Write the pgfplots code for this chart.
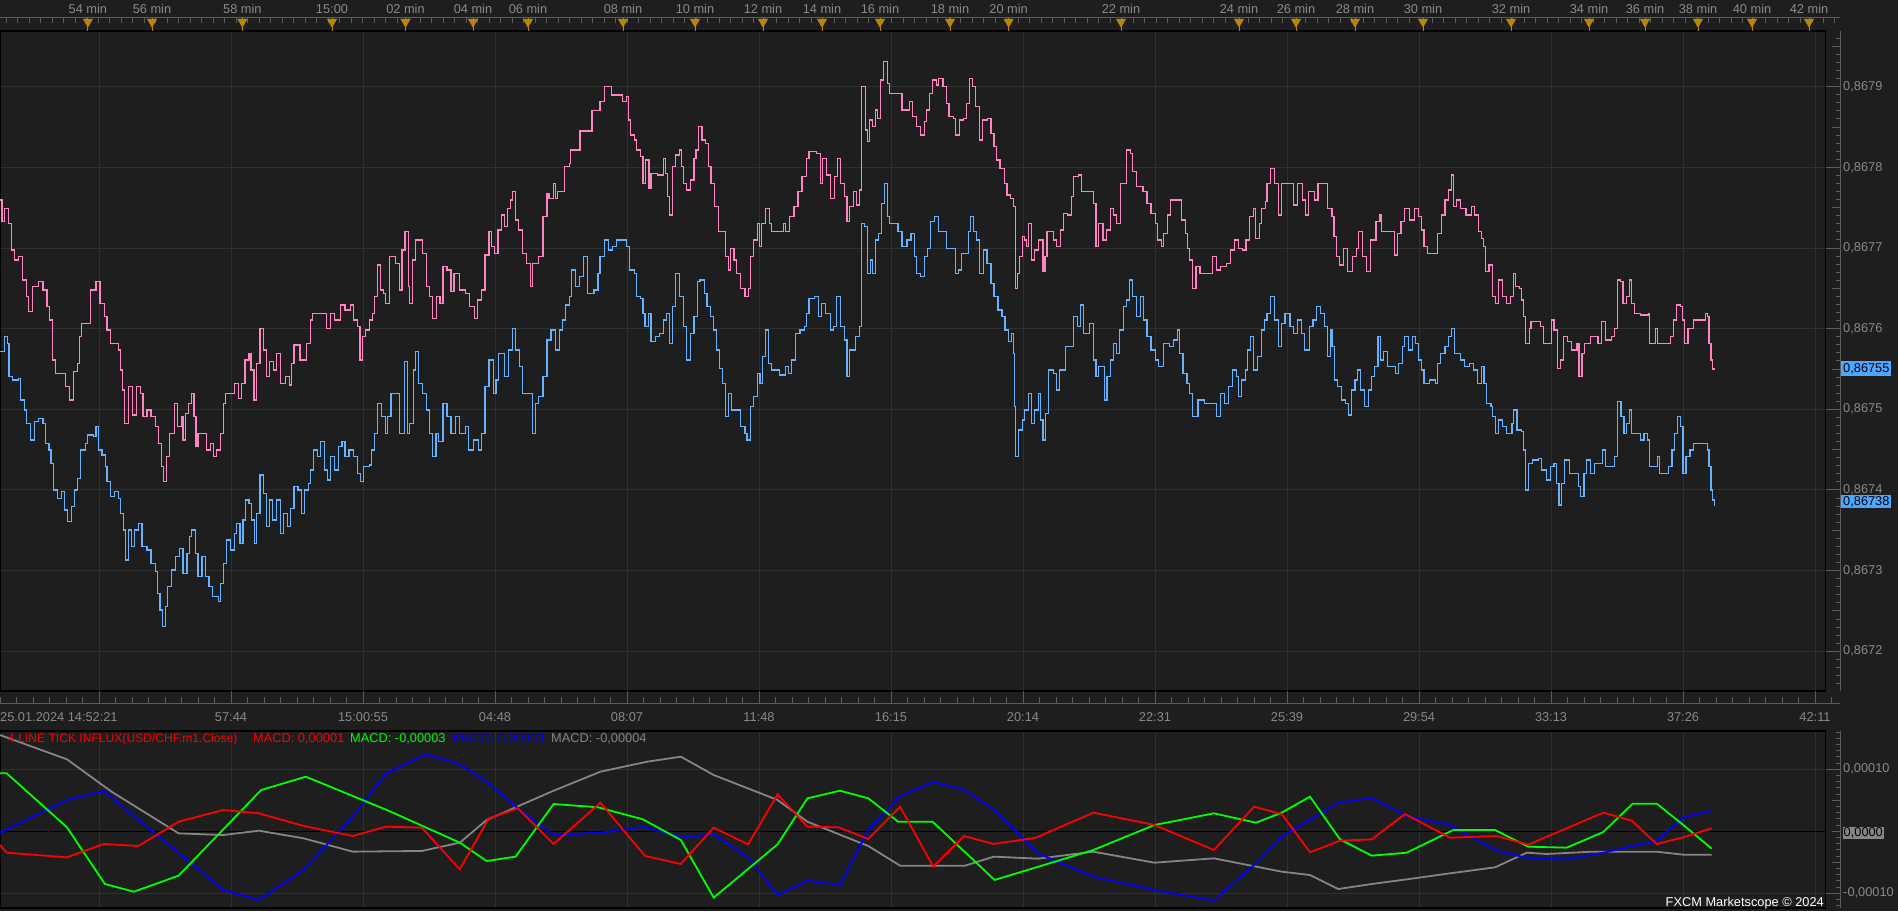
\documentclass[border=0pt]{standalone}
\usepackage{pgfplots}
\pgfplotsset{compat=1.18}
\usepackage{fontspec}
\setmainfont{Liberation Sans}
\definecolor{bg}{HTML}{1E1E1E}
\definecolor{gridc}{HTML}{303030}
\definecolor{rulec}{HTML}{5C5C5C}
\definecolor{txt}{HTML}{8A8A8A}
\definecolor{pinkc}{HTML}{FF85C2}
\definecolor{bluec}{HTML}{66B2FF}
\definecolor{boxblue}{HTML}{4DA6FF}
\definecolor{goldc}{HTML}{B8860B}
\definecolor{mgray}{HTML}{858585}
\definecolor{mred}{HTML}{FF0000}
\definecolor{mgreen}{HTML}{00FF00}
\definecolor{mblue}{HTML}{0000FF}
\newcommand{\lab}{\fontsize{12.8}{15}\selectfont}
\newcommand{\tlab}{\fontsize{12.1}{14}\selectfont}
\pgfplotsset{
  panel/.style={scale only axis, anchor=south west, xmin=0, xmax=1825.7, width=1825.7pt,
    grid=major, grid style={gridc, line width=1pt}, xtick={99,231,...,1815},
    xmajorticks=false, ymajorticks=false,
    axis line style={black, line width=1.5pt}},
  ruler/.style={scale only axis, anchor=south west, width=1840pt, xmin=0, xmax=1,
    axis x line=none, axis y line*=right, axis line style={rulec, line width=1pt},
    tick align=inside, major tick length=14.3pt, minor tick length=4pt,
    tick style={rulec, line width=1pt},
    extra y tick labels={}, extra y tick style={major tick length=8pt},
    yticklabel style={anchor=west, inner sep=0pt, xshift=3pt, text=txt, font=\lab}},
}
\begin{document}
\begin{tikzpicture}[x=1pt,y=1pt]
\fill[bg] (0,0) rectangle (1898,911);

% ---------------- main price panel
\begin{axis}[panel, at={(0pt,220pt)}, height=660pt, ymin=15.08, ymax=96.905, ytick={20,30,...,90}]
\addplot[const plot, pinkc, line width=1.2pt] table {
0 75.95
2.0 73.27
4.1 74.92
8.2 73.06
11.4 69.75
14.3 68.51
18.4 68.93
22.4 66.04
26.5 63.97
28.6 62.11
32.7 65.21
38.8 65.83
42.9 64.80
46.9 62.73
49.8 61.08
52.2 56.12
55.1 54.46
61.2 54.46
65.3 52.81
69.4 51.16
73.5 54.67
77.6 55.70
79.6 59.01
81.6 60.66
87.8 60.66
90.6 64.80
95.9 65.83
100.0 63.14
104.1 61.49
106.9 59.84
110.2 58.18
118.4 57.36
120.4 54.88
122.4 52.40
124.5 48.26
128.6 52.81
132.7 49.30
136.7 52.81
140.8 51.98
142.9 49.09
146.9 49.92
151.0 49.09
155.1 47.85
158.4 45.79
161.2 42.89
163.3 41.03
166.5 44.13
169.4 47.03
174.7 50.74
177.6 47.85
181.6 49.09
182.9 46.20
185.7 49.50
188.6 50.74
191.8 51.98
193.9 49.09
195.9 45.37
198.0 47.03
204.1 47.03
206.1 44.96
210.2 45.79
213.5 44.13
216.3 44.96
220.4 47.03
223.7 50.74
225.3 51.98
230.6 51.98
234.7 53.22
238.8 51.36
241.6 53.22
244.9 56.12
249.0 56.94
251.0 54.88
253.9 51.16
256.3 55.70
260.0 60.04
263.3 57.36
266.1 54.05
269.4 55.91
273.5 54.88
276.7 56.94
280.8 53.22
285.7 54.05
289.8 53.02
291.8 55.70
293.9 57.98
300.0 56.12
304.1 56.12
306.1 58.18
310.2 61.08
312.2 61.90
322.4 61.90
326.5 60.04
330.6 61.90
334.7 61.08
340.8 62.94
344.9 62.32
350.2 62.94
353.1 61.08
357.1 60.25
360.0 56.12
362.4 59.01
365.3 59.84
369.4 61.08
372.2 61.90
374.7 63.97
377.6 67.90
380.8 64.80
383.7 64.38
385.7 63.14
389.8 68.93
395.1 68.10
399.2 64.80
402.0 69.75
404.9 72.03
408.2 65.21
409.4 63.14
412.2 68.51
415.5 70.99
418.4 70.99
422.4 69.34
426.5 65.21
429.4 63.97
432.7 61.28
436.7 63.97
440.0 63.14
442.9 67.69
446.9 67.27
451.0 64.59
453.9 66.86
459.2 64.80
465.3 64.38
469.4 62.73
474.3 61.28
477.6 63.56
481.6 64.80
484.9 69.13
489.0 72.03
491.8 70.17
494.7 69.34
498.0 72.23
501.2 74.09
504.1 72.65
507.3 74.92
510.2 75.95
512.2 76.99
515.1 73.47
518.4 72.23
522.4 69.34
526.5 68.10
530.6 65.21
532.7 68.10
538.8 68.93
542.9 73.89
546.9 76.78
549.0 76.16
553.1 78.02
555.1 76.16
557.1 76.99
563.3 76.99
564.1 80.09
569.4 80.50
570.6 82.15
580.0 84.50
592.0 87.00
600.0 88.14
604.1 90.00
610.2 90.00
611.4 88.97
618.4 88.97
622.4 88.14
626.5 88.76
628.6 85.87
630.6 84.01
634.7 83.39
636.7 82.15
640.8 81.33
642.9 78.02
645.7 80.91
649.0 77.40
651.0 79.26
657.1 79.05
663.3 81.12
665.3 79.26
667.3 76.37
669.4 74.09
672.7 80.09
675.5 81.53
679.6 82.15
681.6 80.09
683.7 78.02
686.5 77.19
690.6 78.43
693.9 81.12
695.9 82.15
698.8 85.05
702.0 83.39
705.3 82.98
708.2 80.09
711.0 78.02
714.3 75.13
718.4 72.03
724.5 72.03
725.7 68.93
728.6 67.28
730.6 69.96
733.9 68.51
736.7 66.86
740.8 65.00
744.9 63.97
748.2 65.00
750.2 68.93
753.1 70.99
757.1 73.06
759.2 70.17
761.2 73.06
765.3 74.92
769.4 73.06
771.4 72.03
779.6 72.03
783.7 73.06
785.7 72.03
789.8 73.89
793.9 75.13
798.0 76.99
802.0 78.85
806.1 81.12
809.0 81.95
816.3 81.74
820.4 78.02
822.4 81.12
826.5 79.05
830.6 76.16
834.7 78.85
837.6 81.12
840.8 78.02
844.1 76.37
846.9 73.27
849.8 75.13
853.1 76.99
856.3 75.33
859.2 77.19
861.2 90.00
863.3 90.00
865.3 84.63
867.3 83.19
869.4 85.87
872.7 85.05
875.5 87.11
877.6 86.08
880.8 90.83
883.7 93.10
887.8 90.42
889.8 89.18
900.0 89.18
902.0 87.11
906.9 87.11
909.4 88.14
912.2 86.29
916.3 85.05
920.4 84.01
924.5 85.67
926.5 87.11
929.8 89.18
932.7 90.83
936.7 90.21
938.8 91.04
942.9 90.00
946.1 87.94
949.0 86.29
953.1 86.08
955.1 84.01
959.2 85.87
963.3 86.08
966.1 87.94
969.4 91.04
972.2 90.00
975.5 87.53
979.6 83.39
982.4 85.87
987.8 86.08
991.0 84.22
993.9 82.57
996.7 80.91
1000.0 79.88
1004.1 78.02
1006.9 76.57
1010.2 76.16
1013.1 75.13
1015.1 65.00
1017.1 66.86
1019.2 68.93
1022.4 71.41
1024.5 70.99
1026.5 70.17
1028.6 73.06
1031.8 68.51
1034.7 69.76
1038.8 70.99
1042.9 67.07
1044.9 68.93
1046.9 72.03
1053.1 70.99
1056.3 70.17
1060.4 72.23
1063.3 74.30
1067.3 74.09
1071.4 76.37
1073.5 78.85
1078.4 79.05
1081.6 76.99
1089.8 76.99
1093.1 75.54
1095.9 70.17
1098.8 73.06
1102.9 70.99
1106.1 72.23
1110.2 74.92
1113.5 74.09
1116.3 73.06
1120.4 78.02
1126.5 82.15
1130.6 81.74
1132.7 79.47
1136.7 77.61
1142.9 76.99
1146.9 75.54
1151.0 74.30
1155.1 73.06
1157.1 70.99
1161.2 70.17
1163.3 71.82
1167.3 74.09
1170.6 75.95
1179.6 75.95
1181.6 73.47
1185.7 71.82
1187.8 69.96
1189.8 68.51
1192.7 65.00
1195.9 67.69
1200.0 66.86
1208.2 66.86
1212.2 68.93
1216.3 67.28
1220.4 67.69
1226.5 68.10
1230.6 69.76
1234.7 70.99
1238.3 69.96
1242.1 69.75
1245.9 70.99
1249.8 73.89
1253.6 74.92
1255.5 71.20
1259.3 73.06
1261.2 74.92
1265.1 75.75
1267.0 78.02
1270.8 79.88
1274.6 78.02
1278.5 74.09
1281.1 78.02
1291.8 78.02
1293.8 75.33
1297.6 78.02
1302.6 75.95
1305.2 74.09
1308.3 76.99
1314.8 75.95
1317.9 78.02
1324.4 78.02
1327.4 74.92
1332.0 73.89
1333.9 71.41
1336.6 68.93
1339.7 67.90
1343.5 69.96
1347.3 67.07
1352.3 68.93
1356.1 69.96
1358.8 72.03
1362.6 68.93
1366.5 67.07
1370.3 70.99
1376.0 73.27
1379.9 74.09
1381.8 72.03
1391.4 72.03
1394.4 69.13
1397.1 71.82
1400.9 73.27
1404.7 74.92
1409.7 73.47
1414.3 74.92
1418.1 73.89
1421.2 72.23
1423.9 70.17
1427.7 69.34
1435.4 69.34
1437.3 71.82
1441.1 74.09
1444.9 75.95
1448.8 77.19
1451.4 79.05
1453.7 75.13
1456.4 75.95
1460.2 74.92
1466.0 74.09
1471.7 75.13
1474.8 74.09
1478.6 72.03
1481.3 71.20
1483.2 70.17
1485.1 67.07
1488.9 67.90
1492.8 63.97
1495.4 63.14
1498.5 66.04
1502.3 63.97
1506.2 63.14
1510.8 63.97
1513.8 66.86
1515.7 65.21
1519.5 65.00
1521.5 63.56
1523.4 61.49
1525.3 58.18
1529.1 60.04
1531.0 60.87
1538.7 60.87
1540.6 60.25
1543.7 58.18
1549.0 58.18
1551.3 61.08
1554.0 59.84
1557.8 55.08
1560.5 56.12
1563.6 59.01
1567.4 58.39
1571.2 57.36
1577.0 58.18
1578.9 54.05
1581.9 56.94
1584.6 58.18
1590.4 59.01
1598.0 58.18
1601.8 60.87
1605.7 58.60
1611.4 59.01
1614.1 60.04
1617.1 66.04
1620.2 65.83
1622.9 63.14
1626.7 63.97
1629.4 66.04
1631.7 63.14
1634.4 61.90
1640.1 61.70
1648.5 61.90
1649.7 58.18
1655.4 60.04
1657.3 58.18
1668.8 58.18
1670.7 59.01
1673.8 61.08
1676.5 62.94
1680.3 62.73
1682.2 61.08
1684.1 58.18
1687.9 60.04
1693.7 61.08
1703.3 61.08
1705.2 61.90
1707.1 61.49
1709.0 58.18
1710.9 56.12
1712.8 55.00
1714.7 55.00
};
\addplot[const plot, bluec, line width=1.2pt] table {
0 57.15
4.1 59.01
7.3 58.18
9.0 54.05
12.2 53.64
18.4 53.84
20.4 51.16
24.5 49.92
26.5 48.26
30.6 46.20
34.7 48.47
38.8 48.88
42.9 48.26
45.7 45.79
49.0 44.96
51.0 43.31
53.1 40.00
57.1 38.97
61.2 39.79
64.5 37.52
67.3 36.07
71.4 37.93
74.3 40.00
77.6 41.45
80.4 44.96
85.7 45.79
87.8 46.82
93.1 46.61
95.9 47.85
98.8 44.96
102.0 44.34
105.3 42.89
106.9 41.03
110.2 39.17
114.3 39.79
118.4 38.97
120.4 37.11
123.3 35.04
125.3 31.32
128.6 35.04
131.4 32.97
134.7 35.04
138.8 35.87
142.0 32.97
146.9 32.56
151.0 30.91
155.1 29.88
157.1 27.19
160.0 25.12
162.4 23.06
165.3 25.54
167.3 28.02
171.4 30.08
175.5 31.73
179.6 32.77
182.9 29.67
186.9 32.15
189.8 34.21
191.8 35.04
195.1 32.15
198.0 29.26
202.0 31.73
205.3 29.26
209.0 28.02
212.2 26.78
218.4 26.16
220.4 28.43
223.7 30.91
226.5 33.80
230.6 32.56
234.7 34.63
236.7 35.87
240.0 33.39
242.9 36.28
245.7 38.76
249.0 38.35
251.8 36.28
254.3 33.39
256.3 37.11
260.0 41.86
263.3 39.59
266.1 35.45
269.4 38.76
272.7 36.28
276.7 38.76
280.8 34.63
283.7 37.11
287.8 35.45
290.6 37.73
293.9 40.41
298.0 40.00
301.2 37.11
304.1 40.00
308.2 40.83
310.2 42.48
313.5 44.96
317.6 44.13
320.4 45.99
324.5 42.48
327.8 41.24
330.6 44.13
334.7 42.48
338.8 45.37
342.0 45.99
344.9 44.13
349.0 44.96
353.1 44.13
357.1 42.07
360.4 41.03
363.3 42.89
369.4 43.10
371.4 44.96
374.7 47.03
377.6 50.74
381.6 49.09
385.7 47.03
387.8 49.09
391.0 51.98
395.9 51.98
399.2 47.03
404.1 55.91
407.3 47.03
409.4 48.26
413.1 54.88
415.5 57.15
418.4 53.22
422.4 51.98
426.5 49.92
429.4 47.03
432.7 44.13
435.9 47.03
438.8 45.99
442.9 50.74
446.9 49.09
451.0 47.03
455.1 49.09
459.2 47.03
465.3 47.85
468.6 44.96
473.5 46.20
478.4 44.96
481.6 47.03
484.9 52.81
489.0 56.12
493.1 51.98
495.9 53.64
498.8 56.94
504.1 54.05
508.2 57.36
512.2 60.04
515.1 57.36
519.2 55.29
522.4 51.98
528.6 51.98
532.7 47.03
535.5 50.74
538.8 51.57
542.9 54.05
546.9 58.60
551.0 59.84
555.1 57.36
559.2 59.84
562.4 61.08
565.3 62.94
569.4 63.97
571.4 67.27
575.5 65.21
579.6 66.45
583.7 68.93
587.8 64.38
593.9 64.80
598.0 66.86
600.0 68.93
604.1 70.99
608.2 69.76
612.2 70.17
616.3 70.99
626.5 70.17
629.4 67.28
634.7 66.86
636.7 63.97
640.8 63.76
642.9 61.90
644.9 60.25
648.2 61.90
651.0 58.39
655.1 59.01
659.2 59.42
663.3 61.08
666.1 61.90
669.4 58.18
672.7 62.73
675.5 66.86
679.6 63.97
683.7 60.25
686.5 56.12
690.6 59.42
693.9 61.49
697.1 65.83
700.0 66.04
704.1 64.38
706.9 62.73
710.2 61.49
713.5 59.84
716.3 57.36
719.2 55.08
722.4 53.22
725.7 49.09
728.6 51.98
731.4 49.92
734.7 49.92
740.8 47.85
744.9 47.03
746.9 46.20
750.2 50.33
753.1 51.57
757.1 54.46
760.0 53.22
762.4 56.53
765.3 59.84
768.2 55.70
771.4 54.88
779.6 54.26
785.7 55.29
788.6 54.46
791.8 56.12
795.1 59.42
800.0 59.84
804.1 60.25
806.1 61.90
809.0 63.76
814.3 63.97
818.4 61.49
821.2 63.14
825.3 61.90
830.6 59.84
833.5 60.25
836.7 63.97
840.8 60.25
844.1 58.60
846.9 54.05
849.8 57.36
855.1 59.01
859.2 60.25
861.2 73.06
864.5 72.65
867.3 66.86
870.2 68.52
872.7 66.86
875.5 70.99
878.4 71.82
881.6 75.54
884.5 78.02
887.8 73.89
889.8 73.06
898.0 72.03
902.0 70.17
906.9 70.99
911.0 71.82
914.3 68.93
916.3 66.86
920.4 66.45
924.5 68.93
927.3 69.96
930.6 73.27
934.7 73.89
938.8 72.03
942.9 72.03
946.1 69.96
951.8 69.96
955.1 66.86
958.4 67.28
961.2 69.34
965.3 69.34
968.2 72.03
970.6 73.89
973.5 72.03
976.3 70.99
979.6 66.86
983.7 69.76
986.9 68.10
991.0 65.62
993.9 63.97
998.0 62.32
1002.0 61.49
1004.9 59.84
1008.2 58.39
1011.4 59.42
1013.1 56.94
1014.3 50.33
1015.5 44.13
1018.4 47.44
1022.4 48.68
1024.5 49.92
1028.6 51.98
1031.8 48.27
1034.7 49.92
1038.8 51.98
1040.8 48.68
1042.9 46.20
1045.7 49.51
1048.2 54.88
1053.1 54.46
1056.3 52.40
1059.2 54.88
1063.3 54.88
1065.3 57.77
1069.4 57.77
1073.5 61.49
1077.6 60.25
1080.8 62.94
1083.7 59.42
1089.8 60.66
1093.1 56.12
1095.9 54.05
1098.8 55.29
1104.1 51.16
1106.9 54.05
1110.2 56.12
1113.5 58.18
1116.3 56.94
1119.2 59.84
1123.3 62.73
1126.5 63.56
1129.4 66.04
1132.7 63.97
1136.7 61.49
1140.8 63.97
1143.7 61.08
1146.9 59.01
1151.0 57.36
1155.1 56.12
1158.4 55.29
1163.3 58.18
1169.4 57.77
1173.5 58.60
1177.6 59.84
1179.6 56.94
1182.9 54.46
1186.9 53.22
1189.8 51.98
1192.7 49.09
1198.0 51.16
1204.1 50.75
1212.2 50.75
1216.3 49.09
1220.4 51.98
1224.5 50.75
1228.6 52.81
1232.7 54.88
1236.7 54.05
1238.3 51.57
1241.3 53.64
1245.2 54.88
1247.8 57.36
1250.5 59.01
1253.6 54.88
1257.4 56.53
1261.2 59.84
1264.3 61.08
1267.0 61.90
1270.8 63.97
1274.6 61.08
1278.5 57.77
1281.1 60.66
1285.0 61.90
1289.9 60.25
1293.8 59.42
1297.6 61.08
1301.4 59.42
1304.1 57.36
1309.1 60.25
1312.9 61.08
1316.7 62.73
1320.6 61.90
1324.4 60.25
1327.1 56.53
1330.1 59.84
1332.0 57.77
1334.7 53.64
1337.8 52.81
1341.6 51.16
1345.4 50.74
1348.1 49.30
1351.2 52.40
1355.0 53.64
1357.7 54.88
1360.7 52.40
1364.6 50.33
1368.4 52.40
1371.4 54.05
1374.1 55.29
1378.0 59.01
1380.6 56.12
1383.7 57.15
1387.5 55.29
1395.2 54.46
1398.2 55.70
1402.1 57.77
1404.7 59.01
1408.6 57.36
1412.4 59.01
1415.1 58.18
1418.1 56.12
1421.2 54.88
1423.9 53.22
1429.6 53.64
1435.4 53.22
1437.3 55.70
1440.3 56.94
1444.9 57.77
1448.8 59.01
1451.4 60.04
1454.5 56.94
1460.2 56.12
1464.1 55.29
1469.8 55.70
1473.6 54.88
1477.5 53.22
1481.3 55.29
1484.0 53.22
1486.3 50.74
1490.9 50.33
1492.8 49.09
1495.4 47.03
1498.5 48.68
1502.3 47.85
1506.2 47.03
1511.9 48.26
1513.8 49.92
1516.9 47.44
1521.5 47.23
1523.4 44.96
1525.3 40.00
1528.4 43.31
1532.2 43.72
1538.7 43.93
1541.7 42.48
1546.3 41.24
1550.2 42.89
1554.0 43.31
1556.7 40.83
1559.0 38.14
1561.6 40.83
1564.3 43.72
1569.3 42.07
1575.0 42.07
1578.1 40.41
1580.8 39.17
1583.9 42.07
1586.5 43.72
1590.4 42.07
1594.2 43.31
1599.9 43.31
1602.6 44.96
1605.7 42.89
1611.4 42.89
1614.1 44.13
1617.1 50.95
1621.0 49.09
1624.0 47.03
1626.7 48.26
1629.4 49.92
1631.7 47.03
1636.3 47.03
1640.1 46.20
1643.9 47.03
1647.8 46.20
1649.7 42.89
1655.4 42.89
1657.3 44.13
1659.2 42.07
1668.8 42.89
1671.9 44.96
1674.5 47.03
1677.6 49.09
1680.3 47.85
1683.0 42.07
1686.0 44.13
1689.9 44.96
1693.7 45.79
1703.3 45.79
1707.1 44.96
1709.0 42.89
1710.9 40.00
1712.8 38.76
1714.7 38.00
};
\end{axis}

% ---------------- price ruler (right)
\begin{axis}[ruler, at={(0pt,220pt)}, height=660pt, ymin=15.08, ymax=96.905,
  ytick={20,30,...,90},
  yticklabels={{0,8672},{0,8673},{0,8674},{0,8675},{0,8676},{0,8677},{0,8678},{0,8679}},
  minor ytick={16,17,...,96}, extra y ticks={25,35,...,95}]
\end{axis}

% ---------------- top time ruler
\begin{axis}[scale only axis, anchor=south west, at={(0pt,880pt)}, width=1840pt, height=13pt,
  xmin=0, xmax=1840, ymin=0, ymax=1, axis y line=none, axis x line*=top,
  axis line style={rulec, line width=1pt}, clip=false,
  xtick={87.9,152,242.4,332,405.5,473,528,623,695,763,822,880,950,1008.6,1121,1239,1296,1355,1423,1511,1589,1645,1698,1752,1809},
  xticklabels={54 min,56 min,58 min,15:00,02 min,04 min,06 min,08 min,10 min,12 min,14 min,16 min,18 min,20 min,22 min,24 min,26 min,28 min,30 min,32 min,34 min,36 min,38 min,40 min,42 min},
  tick align=inside, major tick length=13pt, minor tick length=5pt,
  major tick style={goldc, line width=1pt}, minor tick style={rulec, line width=1pt},
  minor xtick={6,17.5,...,1840},
  xticklabel style={anchor=center, yshift=9pt, text=txt, font=\lab, inner sep=0pt}]
\addplot[only marks, mark=triangle*, mark size=5.5pt, color=goldc,
  mark options={rotate=180, fill=goldc, draw=goldc}] coordinates {
(87.9,0.71) (152,0.71) (242.4,0.71) (332,0.71) (405.5,0.71) (473,0.71) (528,0.71)
(623,0.71) (695,0.71) (763,0.71) (822,0.71) (880,0.71) (950,0.71) (1008.6,0.71)
(1121,0.71) (1239,0.71) (1296,0.71) (1355,0.71) (1423,0.71) (1511,0.71) (1589,0.71)
(1645,0.71) (1698,0.71) (1752,0.71) (1809,0.71)};
\end{axis}

% ---------------- bottom time ruler
\begin{axis}[scale only axis, anchor=south west, at={(0pt,207.7pt)}, width=1840pt, height=12.3pt,
  xmin=0, xmax=1840, ymin=0, ymax=1, axis y line=none, axis x line*=bottom,
  axis line style={rulec, line width=1pt},
  xtick={231,363,...,1815},
  xticklabels={57:44,15:00:55,04:48,08:07,11:48,16:15,20:14,22:31,25:39,29:54,33:13,37:26,42:11},
  extra x ticks={99}, extra x tick labels={},
  tick align=inside, major tick length=12.3pt, minor tick length=6.5pt,
  tick style={rulec, line width=1pt}, minor xtick={0,16.5,...,1840},
  xticklabel style={anchor=center, yshift=-13.4pt, text=txt, font=\lab, inner sep=0pt}]
\end{axis}
\node[anchor=west, text=txt, font=\lab, inner sep=0pt] at (0pt,194.3pt) {25.01.2024 14:52:21};

% ---------------- MACD panel
\begin{axis}[panel, at={(0pt,3pt)}, height=177pt, ymin=-12.37, ymax=16.18, ytick={-10,10}]
\addplot[black, line width=1.5pt, forget plot] coordinates {(0,0) (1825.7,0)};
\addplot[mgray, line width=1.8pt] table {
0 15.53
67.0 11.61
111.6 6.39
178.6 -0.33
223.2 -0.60
258.9 0.10
303.6 -1.13
352.7 -3.28
421.9 -3.17
459.8 -1.83
486.6 1.82
551.3 6.39
600.4 9.62
647.3 11.23
680.8 12.04
713.7 9.08
777.6 5.05
807.4 1.55
868.3 -2.37
900.1 -5.54
965.1 -5.54
993.8 -4.09
1037.8 -4.41
1093.3 -3.29
1154.5 -5.06
1213.9 -4.36
1281.7 -6.51
1310.0 -7.05
1338.3 -9.31
1371.7 -8.50
1406.7 -7.75
1450.0 -6.78
1495.0 -5.81
1526.7 -3.45
1546.7 -3.66
1591.7 -3.29
1656.7 -3.29
1683.3 -3.77
1711.7 -3.77
};
\addplot[mblue, line width=1.8pt] table {
0 -0.22
67.0 5.05
103.6 6.50
187.5 -4.63
223.2 -9.47
258.9 -11.08
303.6 -6.24
352.7 2.36
386.2 9.35
426.3 12.41
459.8 10.80
486.6 8.01
517.9 3.70
553.6 -0.60
600.4 -0.22
642.9 0.75
680.8 -0.87
713.7 -0.54
748.1 -4.20
777.6 -10.27
807.4 -7.96
840.0 -8.66
868.3 0.21
900.1 5.69
933.3 7.95
963.2 6.77
994.6 3.44
1037.8 -3.55
1093.3 -7.32
1154.5 -9.47
1213.9 -11.19
1254.1 -5.44
1281.7 -0.87
1338.3 4.62
1371.7 5.37
1406.7 2.47
1450.0 1.02
1495.0 -3.02
1528.3 -4.36
1566.7 -4.52
1603.3 -3.45
1656.7 -1.51
1683.3 2.25
1711.7 3.33
};
\addplot[mgreen, line width=1.8pt] table {
0 9.35
6.7 9.35
67.0 0.64
104.9 -8.50
133.9 -9.74
178.6 -7.16
261.2 6.66
305.8 8.81
388.4 3.33
459.8 -1.83
486.6 -4.79
515.6 -4.09
553.6 4.40
598.2 3.87
642.9 1.93
680.8 -1.40
713.7 -10.70
777.6 -2.10
807.4 5.32
840.0 6.55
868.3 5.32
898.1 1.55
932.6 1.55
994.6 -7.85
1093.3 -3.02
1154.5 1.02
1213.9 2.90
1256.0 1.39
1281.7 3.01
1310.0 5.59
1340.0 -1.30
1371.7 -3.93
1406.7 -3.45
1453.3 0.21
1495.0 0.21
1528.3 -2.48
1566.7 -2.64
1603.3 -0.11
1632.7 4.46
1656.7 4.46
1683.3 1.02
1711.7 -2.80
};
\addplot[mred, line width=1.8pt] table {
0 -2.21
6.7 -3.45
67.0 -4.20
103.6 -2.05
138.4 -2.37
178.6 1.55
223.2 3.44
258.9 2.90
303.6 0.86
352.7 -0.76
386.2 0.75
421.9 0.59
459.8 -6.13
488.8 2.09
517.9 3.70
553.6 -2.05
600.4 4.62
645.1 -3.98
680.8 -5.27
713.7 0.59
748.1 -2.10
777.6 5.96
807.4 0.75
838.8 0.64
868.3 -1.24
900.1 3.97
933.3 -5.70
964.0 -0.76
993.8 -2.05
1035.9 -1.03
1093.3 3.01
1154.5 1.02
1213.9 -3.02
1254.1 3.97
1281.7 2.79
1310.0 -3.39
1340.0 -1.51
1371.7 -1.30
1405.0 2.79
1450.0 -1.03
1496.7 -0.76
1528.3 -2.16
1603.3 3.01
1631.7 1.72
1656.7 -2.05
1683.3 -0.97
1711.7 0.48
};
\end{axis}

% ---------------- MACD ruler
\begin{axis}[ruler, at={(0pt,3pt)}, height=177pt, ymin=-12.37, ymax=16.18,
  ytick={-10,10}, yticklabels={{-0,00010},{0,00010}},
  minor ytick={-12,-11,...,16}, extra y ticks={-5,0,5},
  extra y tick style={major tick length=8pt}]
\end{axis}

% ---------------- labels
\node[fill=boxblue, text=black, font=\lab, inner xsep=2pt, inner ysep=0pt, minimum height=15pt, anchor=west] at (1841pt,542pt) {0,86755};
\node[fill=boxblue, text=black, font=\lab, inner xsep=2pt, inner ysep=0pt, minimum height=13pt, anchor=west] at (1841pt,409.5pt) {0,86738};
\node[fill=mgray, text=black, font=\lab, inner xsep=1pt, inner ysep=0pt, minimum height=12pt, anchor=west] at (1842.5pt,78pt) {0,0000};

\node[anchor=west, inner sep=0pt, font=\tlab, text=mred] at (8pt,172pt) {4 LINE TICK INFLUX(USD/CHF.m1.Close)};
\node[anchor=west, inner sep=0pt, font=\lab, text=mred] at (253pt,172pt) {MACD: 0,00001};
\node[anchor=west, inner sep=0pt, font=\lab, text=mgreen] at (350pt,172pt) {MACD: -0,00003};
\node[anchor=west, inner sep=0pt, font=\lab, text=mblue] at (453pt,172pt) {MACD: 0,00003};
\node[anchor=west, inner sep=0pt, font=\lab, text=mgray] at (551pt,172pt) {MACD: -0,00004};
\node[anchor=east, inner sep=0pt, font=\lab, text=white] at (1824pt,8pt) {FXCM Marketscope © 2024};

\pgfresetboundingbox
\useasboundingbox (0,0) rectangle (1898,911);
\end{tikzpicture}
\end{document}
